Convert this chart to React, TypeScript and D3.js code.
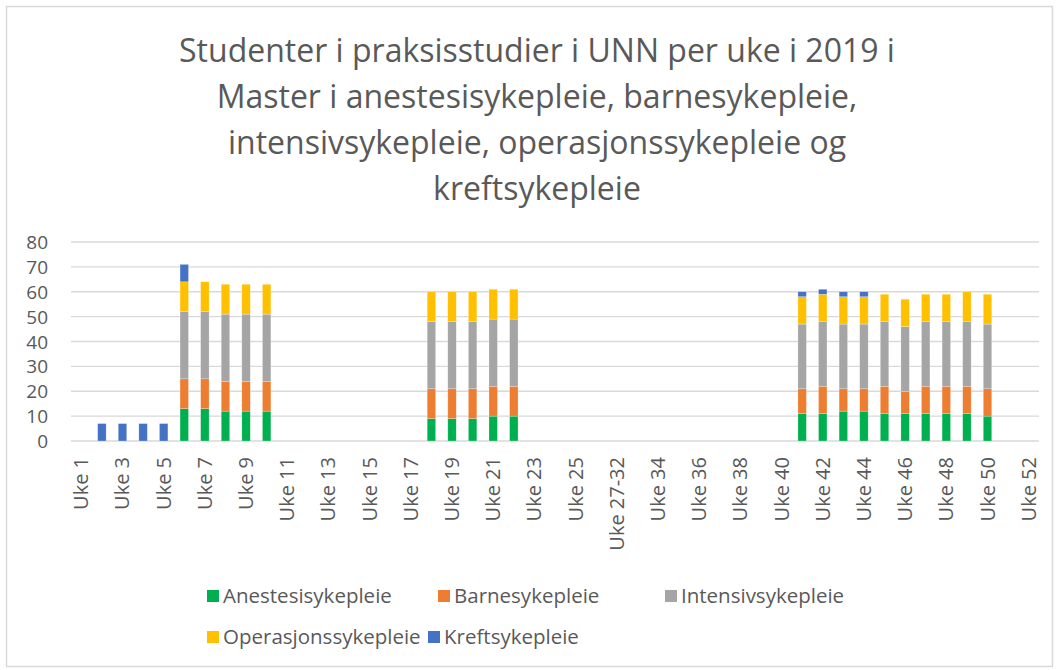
import React from "react";
import * as d3 from "d3";

const weeks: string[] = [
  ...d3.range(1, 27).map((w) => `Uke ${w}`),
  "Uke 27-32",
  ...d3.range(33, 53).map((w) => `Uke ${w}`),
];

// values per week in order of `weeks` (0 = no students)
const anestesi: number[] = [
  0, 0, 0, 0, 0, 13, 13, 12, 12, 12, 0, 0, 0, 0, 0, 0, 0, 9, 9, 9, 10, 10, 0, 0, 0, 0,
  0,
  0, 0, 0, 0, 0, 0, 0, 0, 11, 11, 12, 12, 11, 11, 11, 11, 11, 10, 0, 0,
];
const barne: number[] = [
  0, 0, 0, 0, 0, 12, 12, 12, 12, 12, 0, 0, 0, 0, 0, 0, 0, 12, 12, 12, 12, 12, 0, 0, 0, 0,
  0,
  0, 0, 0, 0, 0, 0, 0, 0, 10, 11, 9, 9, 11, 9, 11, 11, 11, 11, 0, 0,
];
const intensiv: number[] = [
  0, 0, 0, 0, 0, 27, 27, 27, 27, 27, 0, 0, 0, 0, 0, 0, 0, 27, 27, 27, 27, 27, 0, 0, 0, 0,
  0,
  0, 0, 0, 0, 0, 0, 0, 0, 26, 26, 26, 26, 26, 26, 26, 26, 26, 26, 0, 0,
];
const operasjon: number[] = [
  0, 0, 0, 0, 0, 12, 12, 12, 12, 12, 0, 0, 0, 0, 0, 0, 0, 12, 12, 12, 12, 12, 0, 0, 0, 0,
  0,
  0, 0, 0, 0, 0, 0, 0, 0, 11, 11, 11, 11, 11, 11, 11, 11, 12, 12, 0, 0,
];
const kreft: number[] = [
  0, 7, 7, 7, 7, 7, 0, 0, 0, 0, 0, 0, 0, 0, 0, 0, 0, 0, 0, 0, 0, 0, 0, 0, 0, 0,
  0,
  0, 0, 0, 0, 0, 0, 0, 0, 2, 2, 2, 2, 0, 0, 0, 0, 0, 0, 0, 0,
];

const seriesNames = [
  "Anestesisykepleie",
  "Barnesykepleie",
  "Intensivsykepleie",
  "Operasjonssykepleie",
  "Kreftsykepleie",
];
const seriesValues = [anestesi, barne, intensiv, operasjon, kreft];
const colors = ["#00B050", "#ED7D31", "#A5A5A5", "#FFC000", "#4472C4"];
const yTicks = [0, 10, 20, 30, 40, 50, 60, 70, 80];
const titleLines = [
  "Studenter i praksisstudier i UNN per uke i 2019 i",
  "Master i anestesisykepleie, barnesykepleie,",
  "intensivsykepleie, operasjonssykepleie og",
  "kreftsykepleie",
];

const W = 1056;
const H = 670;
const FONT = "'Open Sans', sans-serif";
const TXT = "#595959";

export default function App() {
  const x = d3
    .scaleBand<string>()
    .domain(weeks)
    .range([71, 1039])
    .paddingInner(0.59)
    .paddingOuter(0.295);
  const y = d3.scaleLinear().domain([0, 80]).range([441, 242]);

  const rows = weeks.map((w, i) => {
    const r: any = { week: w };
    seriesNames.forEach((s, k) => (r[s] = seriesValues[k][i]));
    return r;
  });
  const stacked = d3.stack<any>().keys(seriesNames)(rows);

  const legendItems = [
    { name: seriesNames[0], mx: 207, my: 596 },
    { name: seriesNames[1], mx: 438, my: 596 },
    { name: seriesNames[2], mx: 665, my: 596 },
    { name: seriesNames[3], mx: 207, my: 637 },
    { name: seriesNames[4], mx: 428, my: 637 },
  ];

  return (
    <svg
      width={W}
      height={H}
      style={{ position: "absolute", left: 0, top: 0, background: "#fff" }}
      fontFamily={FONT}
    >
      <rect x={6.5} y={6.5} width={1046} height={660} fill="#fff" stroke="#D9D9D9" strokeWidth={1.5} />
      {titleLines.map((t, i) => (
        <text key={i} x={537} y={62 + i * 46} textAnchor="middle" fontSize={32} fill={TXT}>
          {t}
        </text>
      ))}
      {yTicks.map((t) => (
        <g key={t}>
          <line x1={71} x2={1039} y1={y(t)} y2={y(t)} stroke="#D9D9D9" strokeWidth={1.3} />
          <text x={48} y={y(t) + 7} textAnchor="end" fontSize={19} fill={TXT}>
            {t}
          </text>
        </g>
      ))}
      {stacked.map((layer, k) => (
        <g key={k} fill={colors[k]}>
          {layer.map((d, i) =>
            d[1] - d[0] > 0 ? (
              <rect
                key={i}
                x={x(weeks[i])}
                width={x.bandwidth()}
                y={y(d[1])}
                height={y(d[0]) - y(d[1])}
                stroke="#ffffff"
                strokeOpacity={0.4}
                strokeWidth={0.6}
              />
            ) : null
          )}
        </g>
      ))}
      {weeks.map((w, i) =>
        i % 2 === 0 ? (
          <text
            key={w}
            transform={`translate(${(x(w) as number) + x.bandwidth() / 2 + 7},457) rotate(-90)`}
            textAnchor="end"
            fontSize={20}
            fill={TXT}
          >
            {w}
          </text>
        ) : null
      )}
      {legendItems.map((it, i) => (
        <g key={i}>
          <rect x={it.mx} y={it.my - 6} width={12} height={12} fill={colors[i]} />
          <text x={it.mx + 16} y={it.my + 7} fontSize={20.5} fill={TXT}>
            {it.name}
          </text>
        </g>
      ))}
    </svg>
  );
}
